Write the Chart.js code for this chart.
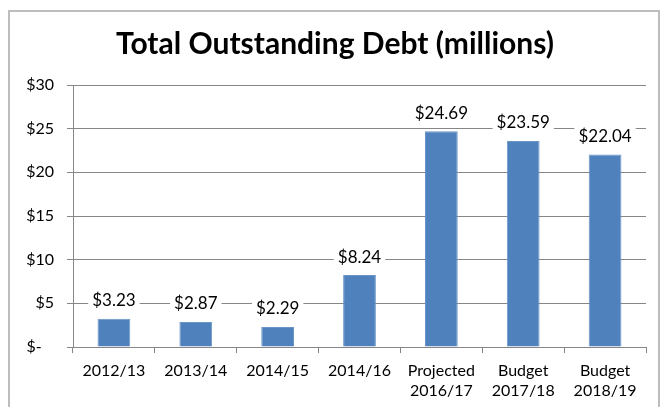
<!DOCTYPE html>
<html>
<head>
<meta charset="utf-8">
<script src="https://cdn.jsdelivr.net/npm/chart.js@4.4.0/dist/chart.umd.min.js"></script>
<style>
  html, body { margin: 0; padding: 0; background: #ffffff; }
  #wrap { position: relative; width: 668px; height: 407px; overflow: hidden; }
  #frame { position: absolute; left: 8px; top: 10px; width: 652px; height: 420px; border: 2px solid #bdbdbd; box-sizing: border-box; }
  canvas { position: absolute; left: 0; top: 0; }
</style>
</head>
<body>
<div id="wrap">
  <div id="frame"></div>
  <canvas id="debtChart" width="668" height="407"></canvas>
</div>
<script>
// ---- data ----
const categories = ['2012/13', '2013/14', '2014/15', '2014/16', ['Projected', '2016/17'], ['Budget', '2017/18'], ['Budget', '2018/19']];
const debtValues = [3.23, 2.87, 2.29, 8.24, 24.69, 23.59, 22.04];
const yTicks = [0, 5, 10, 15, 20, 25, 30];

const FONT = 'Lato, "Open Sans", sans-serif';

// value labels with white box behind, like the spreadsheet
const barLabels = {
  id: 'barLabels',
  afterDatasetsDraw(chart) {
    const ctx = chart.ctx;
    const meta = chart.getDatasetMeta(0);
    ctx.save();
    ctx.font = '17px ' + FONT;
    ctx.textAlign = 'center';
    ctx.textBaseline = 'middle';
    meta.data.forEach((bar, i) => {
      const txt = '$' + debtValues[i].toFixed(2);
      const w = ctx.measureText(txt).width + 8;
      const cy = bar.y - 18;
      ctx.fillStyle = '#ffffff';
      ctx.fillRect(bar.x - w / 2, cy - 11, w, 22);
      ctx.fillStyle = '#000000';
      ctx.fillText(txt, bar.x, cy);
    });
    ctx.restore();
  }
};

new Chart(document.getElementById('debtChart').getContext('2d'), {
  type: 'bar',
  data: {
    labels: categories,
    datasets: [{
      data: debtValues,
      backgroundColor: '#4f81bd',
      borderColor: '#6a95c8',
      borderWidth: 1,
      categoryPercentage: 1.0,
      barPercentage: 0.4
    }]
  },
  options: {
    responsive: false,
    animation: false,
    layout: { padding: { left: 24, right: 22, top: 0, bottom: 0 } },
    plugins: {
      legend: { display: false },
      tooltip: { enabled: false },
      title: {
        display: true,
        text: 'Total Outstanding Debt (millions)',
        color: '#000000',
        font: { family: FONT, size: 30, weight: 'bold' },
        padding: { top: 26, bottom: 23 }
      }
    },
    scales: {
      x: {
        grid: { drawOnChartArea: false, offset: true, tickLength: 6, color: '#868686' },
        border: { color: '#868686', width: 1 },
        ticks: { color: '#000000', font: { family: FONT, size: 16, lineHeight: 1.3 }, padding: 7, maxRotation: 0, autoSkip: false },
        afterFit: s => { s.height = 60; }
      },
      y: {
        min: 0, max: 30,
        afterBuildTicks: s => { s.ticks = yTicks.map(v => ({ value: v })); },
        grid: { color: '#868686', tickLength: 6 },
        border: { color: '#868686', width: 1 },
        ticks: {
          color: '#000000',
          font: { family: FONT, size: 16 },
          padding: 13,
          callback: v => v === 0 ? '$-   ' : '$' + v
        },
        afterFit: s => { s.width = 49; }
      }
    }
  },
  plugins: [barLabels]
});
</script>
</body>
</html>
